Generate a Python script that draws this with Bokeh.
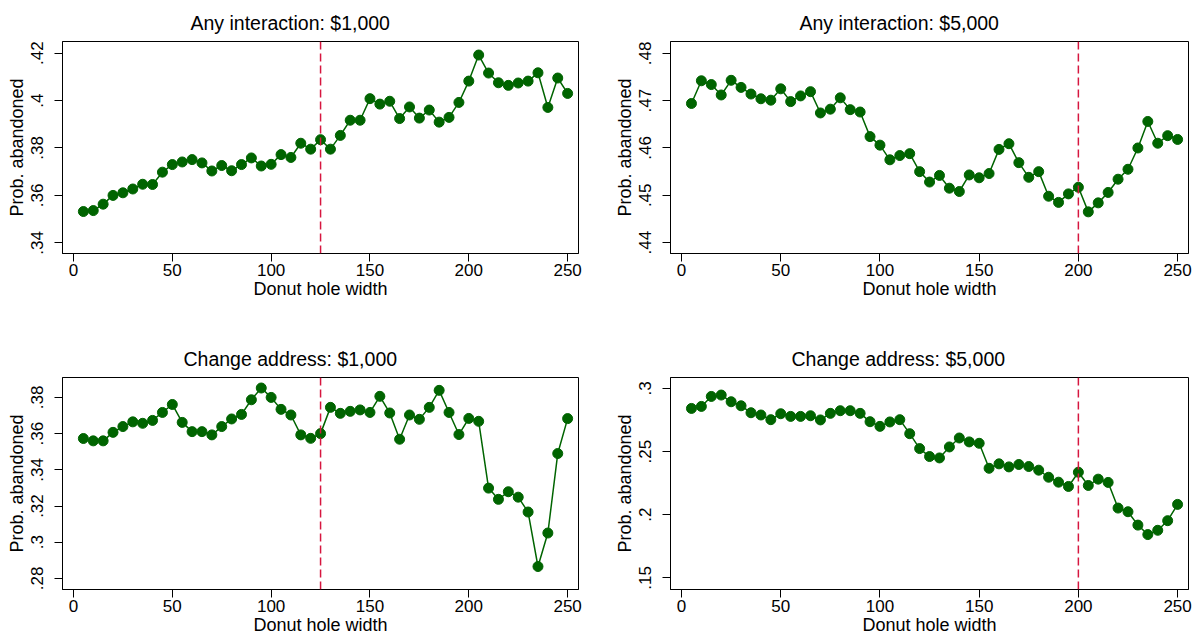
from bokeh.plotting import figure
from bokeh.layouts import gridplot
from bokeh.models import Span, FixedTicker, CustomJSTickFormatter, Range1d, ColumnDataSource
from bokeh.embed import file_html
from bokeh.resources import INLINE

# ---- data ----
hole_width = [5, 10, 15, 20, 25, 30, 35, 40, 45, 50, 55, 60, 65, 70, 75, 80, 85, 90, 95, 100,
              105, 110, 115, 120, 125, 130, 135, 140, 145, 150, 155, 160, 165, 170, 175, 180,
              185, 190, 195, 200, 205, 210, 215, 220, 225, 230, 235, 240, 245, 250]

any_1000 = [.3532, .3536, .3563, .3600, .3611, .3627, .3647, .3646, .3698, .3730,
            .3741, .3751, .3737, .3703, .3726, .3704, .3730, .3758, .3724, .3731,
            .3772, .3760, .3820, .3795, .3835, .3795, .3853, .3917, .3917, .4008,
            .3985, .3997, .3924, .3973, .3926, .3960, .3909, .3929, .3992, .4082,
            .4192, .4116, .4075, .4064, .4074, .4082, .4117, .3971, .4095, .4030]

any_5000 = [.4694, .4742, .4734, .4712, .4743, .4728, .4714, .4704, .4701, .4725,
            .4698, .4710, .4719, .4674, .4682, .4706, .4681, .4676, .4624, .4606,
            .4575, .4584, .4588, .4550, .4528, .4542, .4515, .4508, .4543, .4537,
            .4546, .4597, .4609, .4569, .4538, .4550, .4498, .4485, .4503, .4517,
            .4465, .4484, .4506, .4534, .4555, .4600, .4656, .4610, .4626, .4618]

chg_1000 = [.3573, .3560, .3560, .3607, .3639, .3665, .3657, .3673, .3717, .3761,
            .3662, .3611, .3611, .3593, .3639, .3681, .3706, .3787, .3852, .3800,
            .3734, .3703, .3593, .3574, .3600, .3745, .3712, .3723, .3731, .3717,
            .3806, .3714, .3569, .3703, .3679, .3745, .3839, .3717, .3595, .3684,
            .3668, .3299, .3237, .3279, .3249, .3167, .2866, .3051, .3490, .3683]

chg_5000 = [.2842, .2858, .2937, .2948, .2895, .2863, .2808, .2790, .2753, .2800,
            .2779, .2779, .2784, .2751, .2803, .2824, .2824, .2803, .2737, .2700,
            .2735, .2753, .2642, .2524, .2461, .2450, .2537, .2608, .2577, .2566,
            .2368, .2403, .2379, .2398, .2382, .2353, .2297, .2258, .2224, .2337,
            .2232, .2282, .2256, .2053, .2024, .1918, .1843, .1877, .1953, .2082]

titles = ["Any interaction: $1,000", "Any interaction: $5,000",
          "Change address: $1,000", "Change address: $5,000"]
cutoffs = [125, 200, 125, 200]
x_ticks = [0, 50, 100, 150, 200, 250]
y_ticks_list = [[.34, .36, .38, .40, .42], [.44, .45, .46, .47, .48],
                [.28, .30, .32, .34, .36, .38], [.15, .20, .25, .30]]
y_ranges = [(.3355, .4249), (.4377, .4825), (.2739, .3910), (.1408, .3087)]
series = [any_1000, any_5000, chg_1000, chg_5000]
x_label = "Donut hole width"
y_label = "Prob. abandoned"

FONT = "Liberation Sans"
GREEN = "#006400"
RED = "#D6163F"

# layout geometry per panel: width, height, left, right, top, bottom, title offset
geom = [
    dict(w=598, h=320, l=62, r=20, t=41, b=67, toff=128),
    dict(w=599, h=320, l=72, r=9, t=41, b=67, toff=129),
    dict(w=598, h=319, l=62, r=20, t=57, b=50, toff=121),
    dict(w=599, h=319, l=72, r=9, t=57, b=50, toff=121),
]

fmt = CustomJSTickFormatter(code="""
    var s = tick.toFixed(2).replace(/0+$/, '').replace(/\\.$/, '');
    return s.replace(/^0\\./, '.');
""")

figs = []
for i in range(4):
    g = geom[i]
    src = ColumnDataSource(dict(x=hole_width, y=series[i]))
    p = figure(width=g["w"], height=g["h"], output_backend="svg", toolbar_location=None,
               x_range=Range1d(-5.56, 255.5), y_range=Range1d(*y_ranges[i]),
               min_border_left=g["l"], min_border_right=g["r"],
               min_border_top=g["t"], min_border_bottom=g["b"])
    p.title.text = titles[i]
    p.title.text_font = FONT
    p.title.text_font_size = "19.5px"
    p.title.text_font_style = "normal"
    p.title.text_color = "black"
    p.title.align = "left"
    p.title.offset = g["toff"]
    p.title.standoff = 15

    p.xgrid.visible = False
    p.ygrid.visible = False
    p.outline_line_color = "black"
    p.outline_line_width = 1
    p.background_fill_color = "white"
    p.border_fill_color = "white"

    for ax in (p.xaxis[0], p.yaxis[0]):
        ax.axis_line_color = "black"
        ax.major_tick_line_color = "black"
        ax.major_tick_out = 8
        ax.major_tick_in = 0
        ax.minor_tick_line_color = None
        ax.major_label_text_font = FONT
        ax.major_label_text_font_size = "17px"
        ax.major_label_text_color = "black"
        ax.axis_label_text_font = FONT
        ax.axis_label_text_font_size = "18px"
        ax.axis_label_text_font_style = "normal"
        ax.axis_label_text_color = "black"

    p.xaxis.ticker = FixedTicker(ticks=x_ticks)
    p.xaxis.axis_label = x_label
    p.xaxis.major_label_standoff = 2
    p.xaxis.axis_label_standoff = 0

    p.yaxis.ticker = FixedTicker(ticks=y_ticks_list[i])
    p.yaxis.formatter = fmt
    p.yaxis.major_label_orientation = "vertical"
    p.yaxis.axis_label = y_label
    p.yaxis.major_label_standoff = 11
    p.yaxis.axis_label_standoff = 2

    p.add_layout(Span(location=cutoffs[i], dimension="height", line_color=RED,
                      line_dash="8 4", line_width=1.5))
    p.line("x", "y", source=src, line_color=GREEN, line_width=1.5)
    p.scatter("x", "y", source=src, size=10, fill_color=GREEN, line_color=GREEN)
    figs.append(p)

grid = gridplot([[figs[0], figs[1]], [figs[2], figs[3]]], toolbar_location=None)
open("out.html", "w").write(file_html(grid, INLINE))
